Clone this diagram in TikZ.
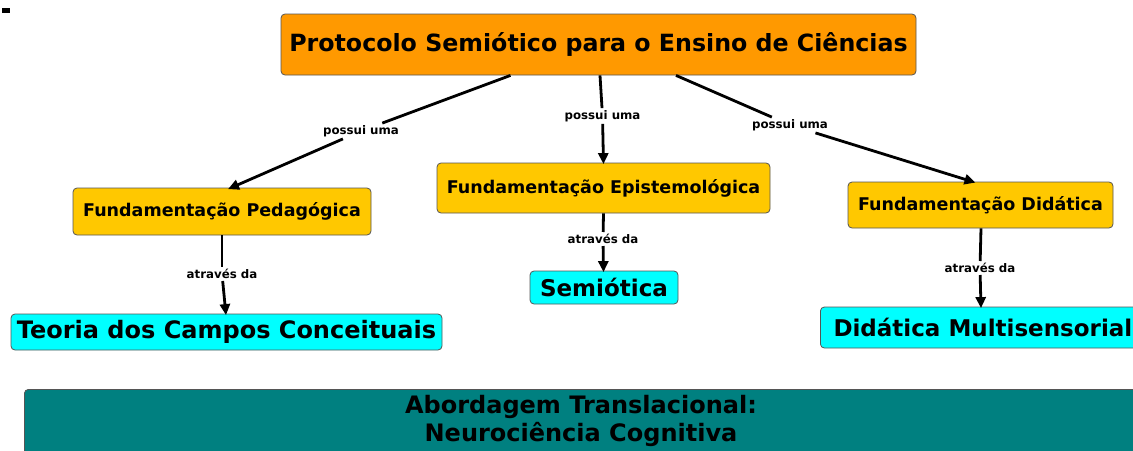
\documentclass[tikz,border=0pt]{standalone}
\usepackage{fontspec}
\setmainfont{DejaVu Sans}
\usetikzlibrary{arrows.meta}
\definecolor{topor}{HTML}{FF9900}
\definecolor{fundor}{HTML}{FFC800}
\definecolor{cyanbox}{HTML}{00FFFF}
\definecolor{tealbox}{HTML}{008080}
\definecolor{edgegray}{HTML}{555555}
\begin{document}
\begin{tikzpicture}[x=1pt,y=-1pt,
  box/.style={draw=edgegray,line width=0.8pt,rounded corners=4pt,inner sep=0pt,align=center},
  topbox/.style={box,fill=topor,font=\bfseries\fontsize{23.7}{27}\selectfont},
  fundbox/.style={box,fill=fundor,font=\bfseries\fontsize{17.5}{20}\selectfont},
  cybox/.style={box,fill=cyanbox,font=\bfseries\fontsize{23}{26}\selectfont},
  tealstyle/.style={box,fill=tealbox},
  link/.style={line width=2.8pt},
  conn/.style={line width=2.8pt,-{Triangle[length=11pt,width=10pt]}},
  lbl/.style={inner sep=2pt,font=\bfseries\fontsize{11.8}{13}\selectfont}]
\useasboundingbox (0,0) rectangle (1133,450);
\clip (0,0) rectangle (1133,450);
\fill[white] (0,0) rectangle (1133,450);
\fill[black] (2,8) rectangle (10,13);
% concept nodes
\node[topbox,minimum width=635pt,minimum height=61pt] (top) at (598.5,44.5) {Protocolo Semiótico para o Ensino de Ciências};
\node[fundbox,minimum width=298pt,minimum height=47pt] (ped) at (222,211.5) {Fundamentação Pedagógica};
\node[fundbox,minimum width=333pt,minimum height=50pt] (epi) at (603.5,188) {Fundamentação Epistemológica};
\node[fundbox,minimum width=265pt,minimum height=46pt] (did) at (980.5,205) {Fundamentação Didática};
\node[cybox,font=\bfseries\fontsize{24}{27}\selectfont,minimum width=431pt,minimum height=36pt] (teo) at (226.5,332) {Teoria dos Campos Conceituais};
\node[cybox,minimum width=148pt,minimum height=33pt] (sem) at (604,287.5) {Semiótica};
\node[cybox,font=\bfseries\fontsize{23}{26}\selectfont,minimum width=325pt,minimum height=41pt,anchor=west] (mul) at (820,327.5) {\hspace*{8pt}Didática Multisensorial\hspace*{8pt}};
\node[tealstyle,minimum width=1140pt,minimum height=80pt,anchor=north west] (neu) at (24,389) {};
\node[font=\bfseries\fontsize{24}{28}\selectfont,align=center,inner sep=0pt] (neut) at (581,421) {Abordagem Translacional:\\Neurociência Cognitiva};
% linking phrases
\node[lbl] (l1) at (361,131) {possui uma};
\node[lbl] (l2) at (602.5,116) {possui uma};
\node[lbl] (l3) at (790,125) {possui uma};
\node[lbl] (l4) at (222,274) {através da};
\node[lbl] (l5) at (603,239) {através da};
\node[lbl] (l6) at (980,268) {através da};
% connectors
\draw[link] ([xshift=-88pt]top.south) -- (l1);
\draw[conn] (l1) -- ([xshift=6pt,yshift=-1.5pt]ped.north);
\draw[link] ([xshift=1.5pt]top.south) -- (l2);
\draw[conn] (l2) -- ([yshift=-1.5pt]epi.north);
\draw[link] ([xshift=77.5pt]top.south) -- (l3);
\draw[conn] (l3) -- ([xshift=-5pt,yshift=-1pt]did.north);
\draw[link] (ped.south) -- (l4);
\draw[conn] (l4) -- ([yshift=-1.5pt]teo.north -| 226,0);
\draw[link] (epi.south) -- (l5);
\draw[conn] (l5) -- ([yshift=-1.5pt]sem.north -| 603.5,0);
\draw[link] ([xshift=0.5pt]did.south) -- (l6);
\draw[conn] (l6) -- ([yshift=-1.5pt]mul.north -| 981,0);
\end{tikzpicture}
\end{document}
